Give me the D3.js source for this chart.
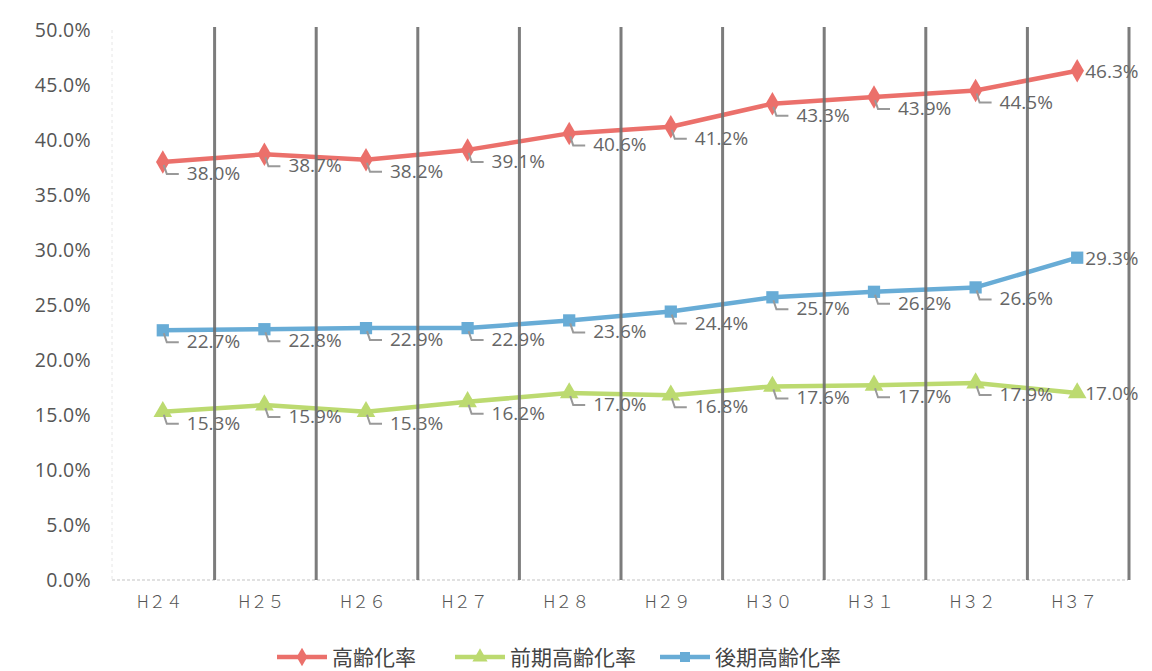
<!DOCTYPE html>
<html><head><meta charset="utf-8">
<script src="https://cdn.jsdelivr.net/npm/d3@7"></script>
<style>body{margin:0;background:#fff}svg{display:block}</style>
</head><body><svg id="c" width="1152" height="671"></svg>
<script>
const categories = ["H２４","H２５","H２６","H２７","H２８","H２９","H３０","H３１","H３２","H３７"];
const seriesNames = ["高齢化率","前期高齢化率","後期高齢化率"];
const agingRate = [38.0,38.7,38.2,39.1,40.6,41.2,43.3,43.9,44.5,46.3];
const earlyRate = [15.3,15.9,15.3,16.2,17.0,16.8,17.6,17.7,17.9,17.0];
const lateRate  = [22.7,22.8,22.9,22.9,23.6,24.4,25.7,26.2,26.6,29.3];
const yTicks = [0,5,10,15,20,25,30,35,40,45,50];

const colors = ["#EB706B","#BCDA70","#68ACD6"];
const shapes = [d3.symbolDiamond, d3.symbolTriangle, d3.symbolSquare];
const shapeSizes = [160, 150, 150];
const series = [agingRate, earlyRate, lateRate];

const svg = d3.select("#c");
const x = d3.scaleBand().domain(categories).range([112,1128]);
const y = d3.scaleLinear().domain([0,50]).range([580,30]);
const font = "'Open Sans','Noto Sans CJK JP',sans-serif";
const cjk = "'Noto Sans CJK JP',sans-serif";

// faint frame lines
svg.append("line").attr("x1",x.range()[0]).attr("x2",x.range()[1]).attr("y1",y(0)).attr("y2",y(0))
  .attr("stroke","#d8d8d8").attr("stroke-width",1.5).attr("stroke-dasharray","3,2");
svg.append("line").attr("x1",x.range()[0]).attr("x2",x.range()[0]).attr("y1",y(50)).attr("y2",y(0))
  .attr("stroke","#e6e6e6").attr("stroke-width",1).attr("stroke-dasharray","3,3");

// y axis
const yAxis = d3.axisLeft(y).tickValues(yTicks).tickFormat(d => d.toFixed(1) + "%").tickSize(0).tickPadding(0);
const yg = svg.append("g").attr("transform","translate(91,0)").call(yAxis);
yg.select(".domain").remove();
yg.selectAll("text").attr("font-family",font).attr("font-size",19.5).attr("fill","#555").attr("letter-spacing","0.3px");

// x axis
const xAxis = d3.axisBottom(x).tickSize(0).tickPadding(0);
const xg = svg.append("g").attr("transform","translate(-3,596)").call(xAxis);
xg.select(".domain").remove();
xg.selectAll("text").attr("font-family",cjk).attr("font-size",17).attr("fill","#555").attr("font-weight",300);

// lines
const line = d3.line().x((d,i)=>x(categories[i])+x.bandwidth()/2).y(d=>y(d));
series.forEach((s,k)=>{
  svg.append("path").datum(s).attr("d",line).attr("fill","none")
    .attr("stroke",colors[k]).attr("stroke-width",4.5).attr("stroke-linejoin","round");
});
// markers
series.forEach((s,k)=>{
  svg.append("g").selectAll("path").data(s).join("path")
    .attr("transform",(d,i)=>`translate(${x(categories[i])+x.bandwidth()/2},${y(d)})`)
    .attr("d",d3.symbol().type(shapes[k]).size(shapeSizes[k])).attr("fill",colors[k]);
});
// data labels with leaders
series.forEach((s,k)=>{
  const g = svg.append("g");
  s.forEach((d,i)=>{
    const cx = x(categories[i])+x.bandwidth()/2, cy = y(d);
    const last = i === s.length-1;
    if(!last){
      g.append("path").attr("d",`M${cx+1},${cy+3}L${cx+4},${cy+12}L${cx+16},${cy+12}`)
        .attr("fill","none").attr("stroke","#999").attr("stroke-width",2);
      g.append("text").attr("x",cx+24).attr("y",cy+18).text(d.toFixed(1)+"%")
        .attr("font-family",font).attr("font-size",19).attr("fill","#666");
    } else {
      g.append("text").attr("x",cx+8).attr("y",cy+7).text(d.toFixed(1)+"%")
        .attr("font-family",font).attr("font-size",19).attr("fill","#666");
    }
  });
});

// dark vertical band separators (drawn on top)
const bounds = categories.map(c => x(c) + x.bandwidth());
svg.append("g").selectAll("line").data(bounds).join("line")
  .attr("x1",d=>d+1).attr("x2",d=>d+1).attr("y1",y(50)-3).attr("y2",y(0))
  .attr("stroke","#6e6e6e").attr("stroke-width",3).attr("opacity",0.9);

// legend
const legendX = [277, 455, 660];
const lg = svg.append("g").attr("transform","translate(0,657)");
seriesNames.forEach((n,k)=>{
  const g = lg.append("g").attr("transform",`translate(${legendX[k]},0)`);
  g.append("line").attr("x1",0).attr("x2",50).attr("y1",0).attr("y2",0)
    .attr("stroke",colors[k]).attr("stroke-width",4.5);
  g.append("path").attr("transform","translate(25,0)")
    .attr("d",d3.symbol().type(shapes[k]).size(100)).attr("fill",colors[k]);
  g.append("text").attr("x",55).attr("y",7.5).text(n)
    .attr("font-family",cjk).attr("font-size",21).attr("fill","#444");
});
</script></body></html>
